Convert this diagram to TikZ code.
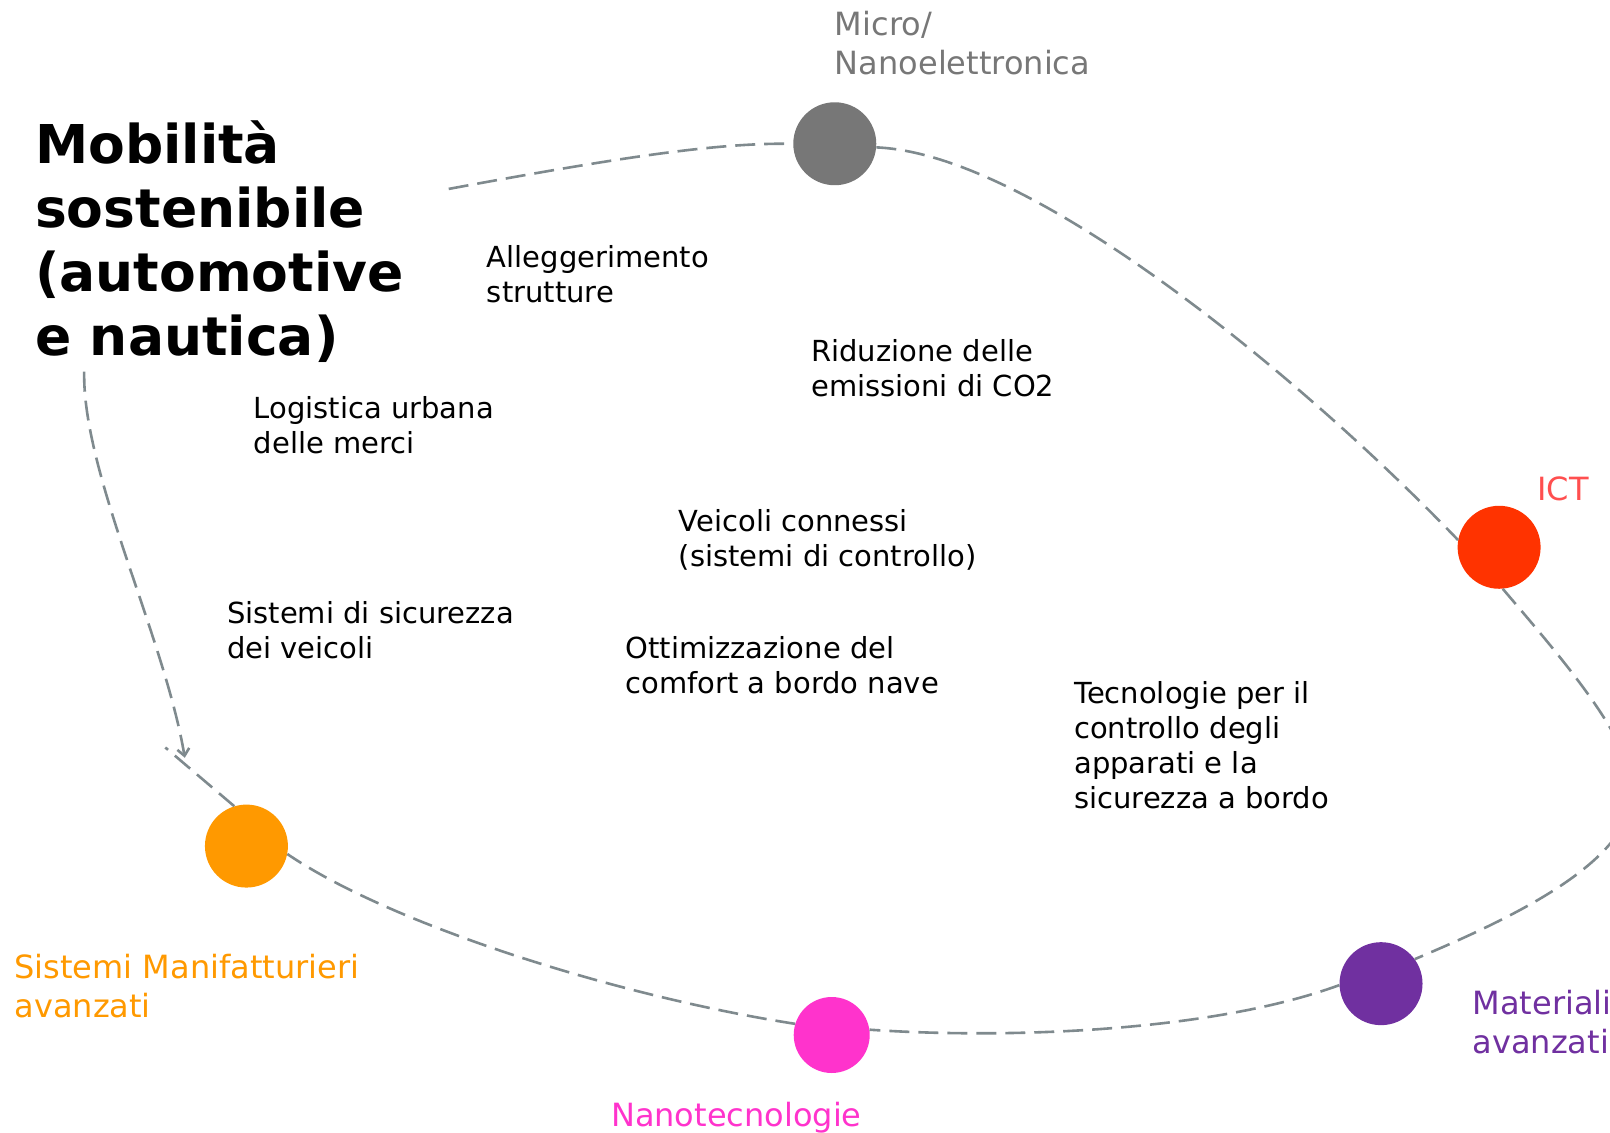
\documentclass[tikz,border=0pt]{standalone}
\usepackage{fontspec}
\setmainfont{DejaVu Sans}
\usetikzlibrary{arrows.meta}
\definecolor{lnc}{HTML}{7F8A8E}
\definecolor{cgray}{HTML}{777777}
\definecolor{cict}{HTML}{FF3300}
\definecolor{lict}{HTML}{FF4F4F}
\definecolor{corange}{HTML}{FF9900}
\definecolor{cpink}{HTML}{FF33CC}
\definecolor{cpurple}{HTML}{7030A0}
\tikzset{
  lab/.style={anchor=north west, inner sep=0pt, align=left, font=\fontsize{29}{35}\selectfont},
  cat/.style={anchor=north west, inner sep=0pt, align=left, font=\fontsize{32}{39}\selectfont},
  ttl/.style={anchor=north west, inner sep=0pt, align=left, font=\bfseries\fontsize{53.5}{64}\selectfont},
  dot/.style={circle, inner sep=0pt, draw=none, minimum size=83pt},
  conn/.style={draw=lnc, line width=2.6pt, dash pattern=on 20pt off 9pt},
}
\begin{document}
\begin{tikzpicture}[x=1.027pt, y=-1.027pt]
\useasboundingbox (0,0) rectangle (1568,1103);
% circles
\node[dot, fill=cgray] (g) at (813,140) {};
\node[dot, fill=cict] (ict) at (1460,533) {};
\node[dot, fill=cpurple] (p) at (1345,958) {};
\node[dot, fill=cpink, minimum size=76pt] (k) at (810,1008) {};
\node[dot, fill=corange] (o) at (240,824) {};
% free ends
\coordinate (s) at (437,184);
\coordinate (l0) at (82,362);
\coordinate (tip) at (180,738);
\coordinate (oe) at (161,728);
% connectors
\draw[conn] (s) .. controls (610,152) and (700,139) .. (g.180);
\draw[conn] (g.-5) .. controls (1010,150) and (1280,380) .. (ict.170);
\draw[conn] (ict.-85) .. controls (1520,640) and (1590,720) .. (1590,770)
   .. controls (1590,840) and (1470,895) .. (p.36);
\draw[conn] (p.182) .. controls (1180,1005) and (980,1012) .. (k.8);
\draw[conn] (k.163) .. controls (600,970) and (380,900) .. (o.-11);
\draw[conn] (o.107) -- (oe);
\draw[conn, -{Straight Barb[length=7pt, width=12pt]}] (l0) .. controls (80,460) and (160,620) .. (tip);
% texts
\node[ttl] (t) at (34,106.9) {\rule{0pt}{1em}Mobilità\\sostenibile\\(automotive\\e nautica)};
\node[cat, text=cgray] (tg) at (813,2.8) {\rule{0pt}{1em}Micro/\\Nanoelettronica};
\node[cat, text=lict] (tict) at (1497,455.8) {\rule{0pt}{1em}ICT};
\node[cat, text=corange] (to) at (14,921.8) {\rule{0pt}{1em}Sistemi Manifatturieri\\avanzati};
\node[cat, text=cpurple] (tp) at (1434,956.8) {\rule{0pt}{1em}Materiali\\avanzati};
\node[cat, text=cpink] (tk) at (595,1065.8) {\rule{0pt}{1em}Nanotecnologie};
\node[lab] (a1) at (474,231.8) {\rule{0pt}{1em}Alleggerimento\\strutture};
\node[lab] (a2) at (790,323.8) {\rule{0pt}{1em}Riduzione delle\\emissioni di CO2};
\node[lab] (a3) at (247,378.8) {\rule{0pt}{1em}Logistica urbana\\delle merci};
\node[lab] (a4) at (661,488.8) {\rule{0pt}{1em}Veicoli connessi\\(sistemi di controllo)};
\node[lab] (a5) at (221,578.8) {\rule{0pt}{1em}Sistemi di sicurezza\\dei veicoli};
\node[lab] (a6) at (609,612.8) {\rule{0pt}{1em}Ottimizzazione del\\comfort a bordo nave};
\node[lab] (a7) at (1046,656.8) {\rule{0pt}{1em}Tecnologie per il\\controllo degli\\apparati e la\\sicurezza a bordo};
\end{tikzpicture}
\end{document}
